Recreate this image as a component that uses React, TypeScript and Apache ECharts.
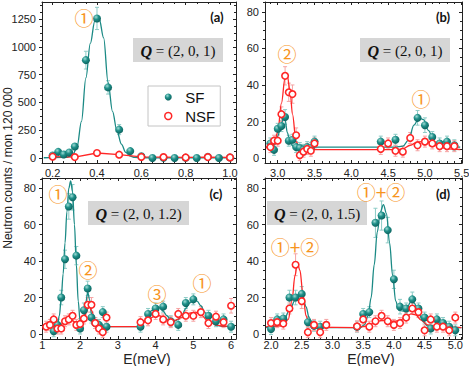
import React, { useEffect, useRef } from 'react';
import * as echarts from 'echarts';

// ---------------- data ----------------
// Panel (a): Q = (2,0,1), low energy
const aE_SF = [0.2, 0.225, 0.25, 0.275, 0.3, 0.35, 0.4, 0.45, 0.5, 0.55, 0.6, 0.65, 0.7, 0.75, 0.8, 0.85, 0.9, 0.95, 1.0];
const aSF = [22, 55, 32, 50, 103, 880, 1255, 635, 255, 62, 15, 0, 3, 0, 2, 0, 10, 0, 5];
const aSF_err = [20, 20, 20, 20, 25, 80, 100, 60, 45, 20, 12, 10, 10, 10, 10, 10, 10, 10, 10];
const aE_NSF = [0.2, 0.3, 0.4, 0.5, 0.6, 0.7, 0.8, 0.9, 1.0];
const aNSF = [12, 8, 45, 30, 10, 8, 5, 8, 5];
const aNSF_err = [12, 12, 15, 15, 10, 10, 10, 10, 10];
const aFitSF = [[0.16, 2], [0.26, 5], [0.29, 25], [0.31, 100], [0.33, 330], [0.35, 720], [0.37, 1030], [0.39, 1230], [0.4, 1260], [0.41, 1250], [0.43, 1080], [0.45, 680], [0.47, 420], [0.49, 245], [0.51, 125], [0.53, 50], [0.55, 16], [0.57, 5], [0.6, 2], [0.7, 1], [1.02, 1]];

// Panel (b): Q = (2,0,1), higher energy
const bE_SF = [2.9, 2.95, 3.0, 3.05, 3.1, 3.15, 3.2, 3.25, 3.3, 3.35, 3.4, 3.45, 3.5, 4.4, 4.6, 4.9, 5.0, 5.1, 5.2, 5.3, 5.4];
const bSF = [8, 4.5, 16, 17.5, 22.5, 9.5, 10, 6, 5.5, 4.5, 6, 5.5, 9, 9, 10, 22, 18, 11.5, 8, 9, 7];
const bSF_err = [3, 3, 3, 3, 4, 3, 3, 3, 3, 3, 3, 3, 3, 3, 3, 4, 4, 3, 3, 3, 3];
const bE_NSF = [2.9, 2.95, 3.0, 3.05, 3.1, 3.15, 3.2, 3.25, 3.3, 3.35, 3.4, 3.45, 3.5, 4.4, 4.5, 4.6, 4.7, 4.8, 4.9, 5.0, 5.1, 5.2, 5.3, 5.4];
const bNSF = [6, 9.5, 9.5, 24, 45, 36, 35, 12.5, 1.6, 3.5, 5, 4, 8, 5, 8, 4, 3.5, 11, 7, 9, 8, 6.5, 6.5, 6.5];
const bNSF_err = [3, 3, 3, 4, 5, 5, 5, 4, 3, 3, 3, 3, 3, 3, 3, 3, 3, 3, 3, 3, 3, 3, 3, 3];
const bFitSF = [[2.84, 6], [2.95, 7], [3.0, 12], [3.05, 19], [3.08, 22], [3.1, 21], [3.13, 14], [3.17, 8], [3.22, 6.2], [3.3, 6], [4.6, 6], [4.7, 6.5], [4.78, 10], [4.85, 18], [4.92, 22], [4.98, 21], [5.05, 15], [5.12, 9], [5.2, 6.8], [5.3, 6.2], [5.48, 6]];
const bFitNSF = [[2.84, 5.5], [2.95, 8], [3.0, 14], [3.05, 30], [3.1, 44], [3.13, 45], [3.17, 36], [3.2, 24], [3.25, 9], [3.3, 5], [3.35, 4.6], [4.6, 4.6], [4.7, 5], [4.8, 7], [4.9, 8.8], [5.0, 9.2], [5.1, 8], [5.2, 6], [5.3, 5], [5.48, 4.7]];

// Panel (c): Q = (2,0,1.2)
const cE_SF = [1.3, 1.4, 1.5, 1.6, 1.7, 1.8, 1.9, 2.0, 2.1, 2.2, 2.3, 2.4, 2.5, 2.6, 2.7, 3.6, 3.8, 4.0, 4.2, 4.4, 4.6, 4.8, 5.0, 5.4, 5.6, 5.8, 6.0];
const cSF = [1.5, 5, 20, 41, 70, 75, 43, 3, 13, 25, 9, 6, 5, 12, 4, 4, 11, 14, 15, 7, 5, 17, 19, 10, 7, 8, 4];
const cSF_err = [3, 3, 4, 5, 7, 7, 5, 3, 4, 4, 3, 3, 3, 3, 3, 3, 3, 3, 3, 3, 3, 3, 3, 3, 3, 3, 3];
const cE_NSF = [1.1, 1.2, 1.3, 1.4, 1.5, 1.6, 1.7, 1.8, 1.9, 2.0, 2.1, 2.2, 2.3, 2.4, 2.5, 2.6, 2.7, 3.6, 3.8, 4.0, 4.2, 4.4, 4.6, 4.8, 5.0, 5.2, 5.4, 5.6, 5.8, 6.0];
const cNSF = [4, 5, 8, 3, 3, 7, 8, 10, 5, 5.5, 8.5, 16, 16, 6, 3, 1, 9, 6.5, 7.5, 11, 8, 6.5, 11, 10, 10, 12, 6, 9.5, 6.5, 15.5];
const cNSF_err = [3, 3, 3, 3, 3, 3, 3, 3, 3, 3, 3, 4, 4, 3, 3, 3, 3, 3, 3, 3, 3, 3, 3, 3, 3, 3, 3, 3, 3, 4];
const cFitSF = [[1.02, 4], [1.3, 4], [1.4, 5], [1.45, 10], [1.5, 20], [1.55, 33], [1.6, 50], [1.65, 67], [1.7, 80], [1.75, 84], [1.8, 78], [1.85, 60], [1.9, 38], [1.95, 18], [2.0, 7], [2.05, 5], [2.1, 9], [2.15, 17], [2.2, 23], [2.25, 19], [2.3, 11], [2.35, 6], [2.45, 4], [2.6, 4], [3.5, 4], [3.6, 5], [3.7, 7], [3.8, 10], [3.9, 13], [4.0, 14.5], [4.1, 14.5], [4.2, 12.5], [4.3, 10], [4.4, 8], [4.5, 7], [4.6, 8], [4.7, 10.5], [4.8, 14], [4.9, 17], [5.0, 18.5], [5.1, 18], [5.2, 15.5], [5.3, 12], [5.4, 8.5], [5.5, 6], [5.6, 4.8], [5.8, 4.2], [6.1, 4]];
const cFitNSF = [[1.02, 4], [1.4, 4.5], [1.6, 6], [1.75, 8], [1.9, 6], [2.0, 5], [2.1, 8], [2.2, 14], [2.25, 15], [2.3, 13], [2.4, 7], [2.5, 4.5], [2.6, 4], [3.5, 4], [3.6, 5], [3.8, 8], [4.0, 10], [4.1, 10], [4.3, 8], [4.5, 7.5], [4.7, 9], [4.9, 11.5], [5.05, 12], [5.2, 10.5], [5.4, 7], [5.6, 5], [5.8, 4.3], [6.1, 4]];

// Panel (d): Q = (2,0,1.5)
const dE_SF = [2.0, 2.1, 2.2, 2.3, 2.4, 2.5, 2.6, 2.7, 2.8, 3.4, 3.5, 3.6, 3.7, 3.8, 3.9, 4.0, 4.1, 4.2, 4.3, 4.4, 4.5, 4.6, 4.7, 4.8, 4.9, 5.0];
const dSF = [2.7, 8, 8.5, 20, 20, 22, 6.4, 4.5, 4, 4, 11, 12, 61, 65, 57, 30, 15, 14, 19, 14, 9, 3, 8, 6, 4, 2];
const dSF_err = [3, 3, 3, 4, 4, 4, 3, 3, 3, 3, 3, 3, 8, 8, 7, 5, 4, 3, 4, 3, 3, 3, 3, 3, 3, 3];
const dE_NSF = [2.0, 2.1, 2.2, 2.3, 2.4, 2.5, 2.6, 2.7, 2.8, 2.9, 3.4, 3.5, 3.6, 3.7, 3.8, 3.9, 4.0, 4.1, 4.2, 4.3, 4.4, 4.5, 4.6, 4.7, 4.8, 4.9, 5.0];
const dNSF = [6, 6.5, 5.7, 14, 38, 18, 1, 5, 1, 5, 4.2, 8, 4, 7, 10, 7, 5, 6, 9, 14, 12, 2, 8, 4, 4, 2, 9];
const dNSF_err = [3, 3, 3, 3, 6, 4, 3, 3, 3, 3, 3, 3, 3, 3, 3, 3, 3, 3, 3, 3, 3, 3, 3, 3, 3, 3, 3];
const dFitSF = [[1.92, 3.5], [2.1, 4.5], [2.2, 7], [2.3, 13], [2.4, 19], [2.47, 21], [2.52, 20], [2.57, 15], [2.62, 9], [2.68, 5], [2.75, 3.8], [2.9, 3.5], [3.45, 3.5], [3.52, 5], [3.58, 10], [3.63, 20], [3.68, 38], [3.73, 56], [3.78, 67], [3.83, 71], [3.88, 66], [3.93, 50], [3.98, 32], [4.03, 18], [4.08, 13], [4.15, 12.5], [4.22, 15], [4.28, 18], [4.33, 17], [4.4, 12], [4.47, 7], [4.55, 4.5], [4.7, 3.7], [5.1, 3.5]];
const dFitNSF = [[1.92, 4], [2.2, 4.5], [2.28, 8], [2.34, 18], [2.39, 32], [2.43, 39], [2.47, 35], [2.52, 22], [2.57, 10], [2.62, 5], [2.7, 3.7], [3.4, 3.5], [3.5, 4], [3.6, 5], [3.7, 6.5], [3.8, 7.5], [3.9, 7.5], [4.0, 7], [4.1, 7.5], [4.2, 9.5], [4.28, 11], [4.35, 10.5], [4.45, 7.5], [4.55, 5], [4.7, 4], [5.1, 3.5]];

// tick labels
const aXTicks = [0.2, 0.4, 0.6, 0.8, 1.0];
const aYTicks = [0, 250, 500, 750, 1000, 1250];
const bXTicks = [3.0, 3.5, 4.0, 4.5, 5.0, 5.5];
const cXTicks = [1, 2, 3, 4, 5, 6];
const dXTicks = [2.0, 2.5, 3.0, 3.5, 4.0, 4.5, 5.0];
const countTicks = [0, 20, 40, 60, 80];

// ---------------- styling ----------------
const FONT = "'Liberation Sans', Arial, sans-serif";
const AXIS_COLOR = '#222';
const TEAL_LINE = '#1b8a85';
const TEAL_ERR = '#8dcbc6';
const RED = '#ff2626';
const RED_ERR = '#f5a3a3';
const ORANGE = '#f7941d';

const sfFill = () =>
  new echarts.graphic.RadialGradient(0.38, 0.32, 0.7, [
    { offset: 0, color: '#9edbd5' },
    { offset: 0.45, color: '#1f9089' },
    { offset: 1, color: '#0b625e' },
  ]);

function minorTicks(major: number[], splits: number, min: number, max: number) {
  const step = (major[1] - major[0]) / splits;
  const out: number[] = [];
  const k0 = Math.ceil((min - major[0]) / step - 1e-9);
  const k1 = Math.floor((max - major[0]) / step + 1e-9);
  for (let k = k0; k <= k1; k++) {
    if (k % splits === 0) continue;
    out.push(Math.round((major[0] + k * step) * 1e6) / 1e6);
  }
  return out;
}

function makeAxes(kind: 'x' | 'y', grid: number, min: number, max: number, major: number[], splits: number,
  fmt: (v: number) => string, margin: number, mainInside: boolean) {
  const pos = kind === 'x' ? ['bottom', 'top'] : ['left', 'right'];
  const minor = minorTicks(major, splits, min, max);
  const base: any = {
    type: 'value', gridIndex: grid, min, max, silent: true,
    splitLine: { show: false }, minorTick: { show: false }, minorSplitLine: { show: false },
  };
  const line = { show: true, onZero: false, lineStyle: { color: AXIS_COLOR, width: 1 } };
  const noLine = { show: false, onZero: false };
  const tl = { color: AXIS_COLOR, width: 1 };
  return [
    {
      ...base, position: pos[0], axisLine: line,
      axisTick: { show: true, inside: mainInside, length: 3, customValues: major, lineStyle: tl },
      axisLabel: { show: true, customValues: major, formatter: fmt, margin, color: '#222', fontSize: 11, fontFamily: FONT },
    },
    { ...base, position: pos[0], axisLine: noLine, axisTick: { show: true, inside: mainInside, length: 2, customValues: minor, lineStyle: tl }, axisLabel: { show: false } },
    { ...base, position: pos[1], axisLine: line, axisTick: { show: true, inside: true, length: 3, customValues: major, lineStyle: tl }, axisLabel: { show: false } },
    { ...base, position: pos[1], axisLine: noLine, axisTick: { show: true, inside: true, length: 2, customValues: minor, lineStyle: tl }, axisLabel: { show: false } },
  ];
}

const zip3 = (xs: number[], ys: number[], es: number[]) => xs.map((x, i) => [x, ys[i], es[i]]);
const zip2 = (xs: number[], ys: number[]) => xs.map((x, i) => [x, ys[i]]);

function errSeries(p: number, data: number[][], color: string) {
  return {
    type: 'custom', xAxisIndex: 4 * p, yAxisIndex: 4 * p, silent: true, clip: true, z: 1,
    encode: { x: 0, y: 1 },
    data,
    renderItem: (params: any, api: any) => {
      const x = api.value(0), y = api.value(1), e = api.value(2);
      const t = api.coord([x, y + e]);
      const b = api.coord([x, y - e]);
      const cw = 2;
      const st = { stroke: color, lineWidth: 1 };
      return {
        type: 'group',
        children: [
          { type: 'line', shape: { x1: t[0], y1: t[1], x2: b[0], y2: b[1] }, style: st },
          { type: 'line', shape: { x1: t[0] - cw, y1: t[1], x2: t[0] + cw, y2: t[1] }, style: st },
          { type: 'line', shape: { x1: b[0] - cw, y1: b[1], x2: b[0] + cw, y2: b[1] }, style: st },
        ],
      };
    },
  };
}

function fitSeries(p: number, name: string, data: number[][], color: string, smooth: boolean) {
  return {
    type: 'line', name, xAxisIndex: 4 * p, yAxisIndex: 4 * p, data, smooth: smooth ? 0.35 : false,
    smoothMonotone: smooth ? 'x' : undefined,
    showSymbol: false, silent: true, z: 2, clip: true,
    lineStyle: { color, width: 1.3 },
  };
}

function sfScatter(p: number, data: number[][]) {
  return {
    type: 'scatter', name: 'SF', xAxisIndex: 4 * p, yAxisIndex: 4 * p, data, symbol: 'circle', symbolSize: 8, z: 4, silent: true,
    itemStyle: { color: sfFill(), opacity: 1 },
  };
}
function nsfScatter(p: number, data: number[][]) {
  return {
    type: 'scatter', name: 'NSF', xAxisIndex: 4 * p, yAxisIndex: 4 * p, data, symbol: 'circle', symbolSize: 6.5, z: 5, silent: true,
    itemStyle: { color: '#ffffff', borderColor: RED, borderWidth: 1.6, opacity: 1 },
  };
}

function buildOption() {
  const f1 = (v: number) => v.toFixed(1);
  const f0 = (v: number) => String(Math.round(v));
  const ranges = {
    a: { x: [0.152, 1.027], y: [-45, 1403] },
    b: { x: [2.827, 5.504], y: [-2.7, 85.4] },
    c: { x: [0.99, 6.13], y: [-2.75, 85.6] },
    d: { x: [1.902, 5.109], y: [-2.75, 85.6] },
  };
  const xAxis = [
    ...makeAxes('x', 0, ranges.a.x[0], ranges.a.x[1], aXTicks, 4, f1, 4, true),
    ...makeAxes('x', 1, ranges.b.x[0], ranges.b.x[1], bXTicks, 5, f1, 4, true),
    ...makeAxes('x', 2, ranges.c.x[0], ranges.c.x[1], cXTicks, 5, f0, 0, true),
    ...makeAxes('x', 3, ranges.d.x[0], ranges.d.x[1], dXTicks, 5, f1, 0, true),
  ];
  const yAxis = [
    ...makeAxes('y', 0, ranges.a.y[0], ranges.a.y[1], aYTicks, 4, f0, 6, false),
    ...makeAxes('y', 1, ranges.b.y[0], ranges.b.y[1], countTicks, 4, f0, 6, false),
    ...makeAxes('y', 2, ranges.c.y[0], ranges.c.y[1], countTicks, 4, f0, 6, false),
    ...makeAxes('y', 3, ranges.d.y[0], ranges.d.y[1], countTicks, 4, f0, 6, false),
  ];

  const series: any[] = [
    // (a)
    errSeries(0, zip3(aE_SF, aSF, aSF_err), TEAL_ERR),
    errSeries(0, zip3(aE_NSF, aNSF, aNSF_err), RED_ERR),
    fitSeries(0, 'SF fit', aFitSF, TEAL_LINE, true),
    fitSeries(0, 'NSF line', zip2(aE_NSF, aNSF), RED, false),
    sfScatter(0, zip2(aE_SF, aSF)),
    nsfScatter(0, zip2(aE_NSF, aNSF)),
    // (b)
    errSeries(1, zip3(bE_SF, bSF, bSF_err), TEAL_ERR),
    errSeries(1, zip3(bE_NSF, bNSF, bNSF_err), RED_ERR),
    fitSeries(1, 'SF fit', bFitSF, TEAL_LINE, true),
    fitSeries(1, 'NSF fit', bFitNSF, RED, true),
    sfScatter(1, zip2(bE_SF, bSF)),
    nsfScatter(1, zip2(bE_NSF, bNSF)),
    // (c)
    errSeries(2, zip3(cE_SF, cSF, cSF_err), TEAL_ERR),
    errSeries(2, zip3(cE_NSF, cNSF, cNSF_err), RED_ERR),
    fitSeries(2, 'SF fit', cFitSF, TEAL_LINE, true),
    fitSeries(2, 'NSF fit', cFitNSF, RED, true),
    sfScatter(2, zip2(cE_SF, cSF)),
    nsfScatter(2, zip2(cE_NSF, cNSF)),
    // (d)
    errSeries(3, zip3(dE_SF, dSF, dSF_err), TEAL_ERR),
    errSeries(3, zip3(dE_NSF, dNSF, dNSF_err), RED_ERR),
    fitSeries(3, 'SF fit', dFitSF, TEAL_LINE, true),
    fitSeries(3, 'NSF fit', dFitNSF, RED, true),
    sfScatter(3, zip2(dE_SF, dSF)),
    nsfScatter(3, zip2(dE_NSF, dNSF)),
  ];

  const qBox = (x: number, y: number, w: number, h: number, rest: string) => ({
    type: 'group', children: [
      { type: 'rect', shape: { x, y, width: w, height: h }, style: { fill: '#d6d6d6' }, z: 50 },
      {
        type: 'text', x: x + w / 2, y: y + h / 2 + 1, z: 51,
        style: {
          text: '{q|Q} = ' + rest, align: 'center', verticalAlign: 'middle',
          fontFamily: "'Liberation Serif', 'DejaVu Serif', serif", fontSize: 15, fill: '#111',
          rich: { q: { fontFamily: "'Liberation Serif', 'DejaVu Serif', serif", fontWeight: 'bold', fontStyle: 'italic', fontSize: 16, fill: '#111' } },
        },
      },
    ],
  });
  const panelLabel = (x: number, y: number, t: string) => ({
    type: 'text', x, y, z: 52,
    style: { text: t, align: 'center', verticalAlign: 'middle', fontFamily: "Lato, 'Open Sans', sans-serif", fontWeight: 'bold', fontSize: 13, fill: '#111' },
  });
  const anno = (x: number, y: number, t: string) => ({
    type: 'text', x, y, z: 53,
    style: { text: t, align: 'center', verticalAlign: 'middle', fontFamily: "'Noto Sans CJK JP', 'Noto Sans CJK SC', sans-serif", fontSize: 19, fill: ORANGE },
  });

  const graphic: any[] = [
    qBox(133, 38, 90, 24, '(2, 0, 1)'),
    qBox(360, 38, 90, 24, '(2, 0, 1)'),
    qBox(88, 201, 101, 24, '(2, 0, 1.2)'),
    qBox(267, 201, 100, 24, '(2, 0, 1.5)'),
    panelLabel(217, 17, '(a)'),
    panelLabel(443, 17, '(b)'),
    panelLabel(216, 194, '(c)'),
    panelLabel(443, 194, '(d)'),
    anno(84, 17, '①'),
    anno(287, 53, '②'),
    anno(421, 98, '①'),
    anno(58, 193, '①'),
    anno(88, 269, '②'),
    anno(157, 293, '③'),
    anno(202, 282, '①'),
    anno(381, 191, '①+②'),
    anno(295, 246, '①+②'),
    {
      type: 'text', x: 8, y: 168, rotation: Math.PI / 2, z: 52,
      style: { text: 'Neutron counts / mon 120 000', align: 'center', verticalAlign: 'middle', fontFamily: FONT, fontSize: 12, fill: '#222' },
    },
    { type: 'text', x: 147, y: 359, z: 52, style: { text: 'E(meV)', align: 'center', verticalAlign: 'middle', fontFamily: FONT, fontSize: 14, fill: '#222' } },
    { type: 'text', x: 371, y: 359, z: 52, style: { text: 'E(meV)', align: 'center', verticalAlign: 'middle', fontFamily: FONT, fontSize: 14, fill: '#222' } },
  ];

  const gridBase = { outerBoundsMode: 'none', containLabel: false, show: false };
  return {
    animation: false,
    backgroundColor: '#ffffff',
    grid: [
      { ...gridBase, left: 42, top: 2, width: 194, height: 161 },
      { ...gridBase, left: 265, top: 2, width: 197, height: 161 },
      { ...gridBase, left: 42, top: 178, width: 194, height: 161 },
      { ...gridBase, left: 265, top: 178, width: 197, height: 161 },
    ],
    xAxis,
    yAxis,
    legend: {
      orient: 'vertical', left: 148, top: 86, padding: [3, 5, 2, 16], itemGap: 3,
      itemWidth: 16, itemHeight: 7, selectedMode: false,
      borderColor: '#c4c4c4', borderWidth: 1, backgroundColor: '#ffffff',
      textStyle: { fontSize: 15, lineHeight: 16, fontFamily: FONT, color: '#111', padding: [0, 0, 0, 4] },
      data: [
        { name: 'SF', icon: 'circle', itemStyle: { color: sfFill(), borderWidth: 0 } },
        { name: 'NSF', icon: 'circle', itemStyle: { color: '#ffffff', borderColor: RED, borderWidth: 1.5 } },
      ],
    },
    series,
    graphic,
  };
}

export default function App() {
  const ref = useRef<HTMLDivElement>(null);
  useEffect(() => {
    if (!ref.current) return;
    const chart = echarts.init(ref.current, null, { renderer: 'svg' });
    chart.setOption(buildOption() as any);
    return () => chart.dispose();
  }, []);
  return (
    <div
      ref={ref}
      style={{ position: 'fixed', left: 0, top: 0, width: 469, height: 366, background: '#ffffff' }}
    />
  );
}
